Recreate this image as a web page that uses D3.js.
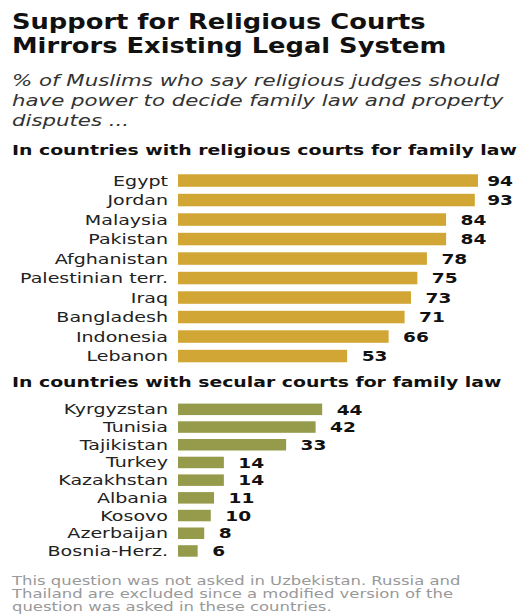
<!DOCTYPE html>
<html><head><meta charset="utf-8">
<script src="https://cdn.jsdelivr.net/npm/d3@7"></script>
<style>
body{margin:0;background:#fff;}
svg{display:block;}
text{font-family:"DejaVu Sans",Verdana,sans-serif;}
</style></head>
<body><svg id="c" width="519" height="614"></svg>
<script>
const religiousCountries = ["Egypt","Jordan","Malaysia","Pakistan","Afghanistan","Palestinian terr.","Iraq","Bangladesh","Indonesia","Lebanon"];
const religiousValues = [94,93,84,84,78,75,73,71,66,53];
const secularCountries = ["Kyrgyzstan","Tunisia","Tajikistan","Turkey","Kazakhstan","Albania","Kosovo","Azerbaijan","Bosnia-Herz."];
const secularValues = [44,42,33,14,14,11,10,8,6];
const titleLines = ["Support for Religious Courts","Mirrors Existing Legal System"];
const subtitleLines = ["% of Muslims who say religious judges should","have power to decide family law and property","disputes ..."];
const headers = ["In countries with religious courts for family law","In countries with secular courts for family law"];
const noteLines = ["This question was not asked in Uzbekistan. Russia and","Thailand are excluded since a modified version of the","question was asked in these countries."];

const svg = d3.select("#c");
const xRel = d3.scaleLinear().domain([0,94]).range([178,478]);
const xSec = d3.scaleLinear().domain([0,94]).range([178,486]);

// stretch text horizontally by factor k
function stretch(sel, k){
  sel.each(function(){
    const w = this.getComputedTextLength();
    d3.select(this).attr("textLength", w*k).attr("lengthAdjust", "spacingAndGlyphs");
  });
  return sel;
}

titleLines.forEach((t,i)=>{
  const s = svg.append("text").attr("x",12).attr("y",29+i*23.7).attr("font-size",22).attr("font-weight","bold").attr("fill","#111").text(t);
  stretch(s,1.17);
});
subtitleLines.forEach((t,i)=>{
  const s = svg.append("text").attr("x",12).attr("y",86+i*19.8).attr("font-size",16.5).attr("font-style","italic").attr("fill","#333").text(t);
  stretch(s,1.29);
});

function section(header, hy, cats, vals, x, y0, y1, bh, color){
  const h = svg.append("text").attr("x",12).attr("y",hy).attr("font-size",14.5).attr("font-weight","bold").attr("fill","#111").text(header);
  stretch(h,1.3);
  const y = d3.scaleBand().domain(cats).range([y0,y1]);
  const g = svg.append("g");
  cats.forEach((c,i)=>{
    const yy = y(c) + (y.bandwidth()-bh)/2;
    g.append("rect").attr("x",x(0)).attr("y",yy).attr("width",x(vals[i])-x(0)).attr("height",bh).attr("fill",color);
    const l = g.append("text").attr("x",168).attr("y",yy+bh/2).attr("dy","0.36em").attr("text-anchor","end")
      .attr("font-size",14).attr("fill","#222").text(c);
    stretch(l,1.36);
    const v = g.append("text").attr("y",yy+bh/2).attr("dy","0.36em")
      .attr("font-size",14.5).attr("font-weight","bold").attr("fill","#111").text(vals[i]);
    stretch(v,1.28);
    const vw = +v.attr("textLength");
    v.attr("x", Math.min(x(vals[i])+14.5, 513-vw));
  });
}
section(headers[0],155,religiousCountries,religiousValues,xRel,170.8,365.8,12.5,"#D2A634");
section(headers[1],387,secularCountries,secularValues,xSec,400.5,559.8,11.5,"#959B4B");

noteLines.forEach((t,i)=>{
  const s = svg.append("text").attr("x",12).attr("y",585+i*12.8).attr("font-size",12).attr("fill","#999").text(t);
  stretch(s,1.37);
});
</script></body></html>
